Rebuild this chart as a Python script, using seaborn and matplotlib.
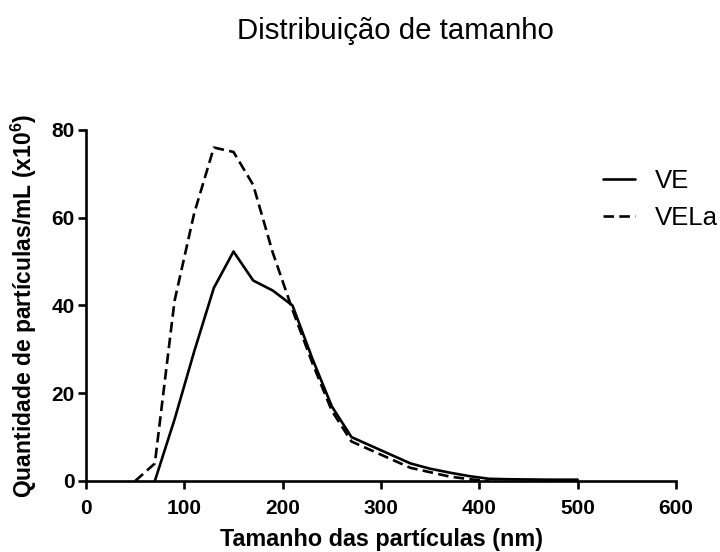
import matplotlib
matplotlib.use("Agg")
import matplotlib.pyplot as plt
import seaborn as sns
import pandas as pd

# Data
size_ve = [70, 90, 110, 130, 150, 170, 190, 210, 230, 250, 270, 290, 310, 330, 350, 370, 390, 410, 430, 450, 470, 490, 500]
count_ve = [0, 14, 29.5, 44, 52.3, 45.7, 43.4, 40, 28, 17, 10, 8, 6, 4, 2.8, 1.9, 1.1, 0.5, 0.4, 0.35, 0.3, 0.3, 0.3]
size_vela = [50, 70, 90, 110, 130, 150, 170, 190, 210, 230, 250, 270, 290, 310, 330, 350, 370, 390, 410]
count_vela = [0, 4, 41, 61, 76, 75, 67.5, 52, 39, 27, 16, 9, 7, 5, 3, 2, 1, 0.4, 0]
series_names = ["VE", "VELa"]
x_ticks = [0, 100, 200, 300, 400, 500, 600]
y_ticks = [0, 20, 40, 60, 80]

sns.set_theme(style="ticks")
plt.rcParams['font.family'] = ['Liberation Sans', 'DejaVu Sans']
plt.rcParams['mathtext.fontset'] = 'custom'
plt.rcParams['mathtext.bf'] = 'Liberation Sans:bold'
plt.rcParams['mathtext.rm'] = 'Liberation Sans'
plt.rcParams['text.color'] = 'black'
plt.rcParams['axes.labelcolor'] = 'black'
plt.rcParams['xtick.color'] = 'black'
plt.rcParams['ytick.color'] = 'black'
plt.rcParams['xtick.labelcolor'] = 'black'
plt.rcParams['ytick.labelcolor'] = 'black'

df = pd.concat([
    pd.DataFrame({"size": size_ve, "count": count_ve, "series": series_names[0]}),
    pd.DataFrame({"size": size_vela, "count": count_vela, "series": series_names[1]}),
], ignore_index=True)

fig = plt.figure(figsize=(7.2, 5.52), dpi=100)
ax = fig.add_axes([86/720, 1-481/552, (676-86)/720, (481-130)/552])

sns.lineplot(data=df, x="size", y="count", style="series", color="black",
             dashes={"VE": "", "VELa": (4, 2)}, linewidth=1.9, ax=ax,
             estimator=None, sort=False, legend="brief")

ax.set_xlim(0, 600)
ax.set_ylim(0, 80)
ax.set_xticks(x_ticks)
ax.set_yticks(y_ticks)
for lbl in ax.get_xticklabels() + ax.get_yticklabels():
    lbl.set_fontweight("bold")
    lbl.set_fontsize(15)
    lbl.set_color("black")
ax.tick_params(direction="out", length=6, width=1.9, color="black", pad=2)
ax.tick_params(axis="x", pad=7)
for s in ["left", "bottom"]:
    ax.spines[s].set_linewidth(1.9)
    ax.spines[s].set_color("black")
sns.despine(ax=ax)

ax.set_xlabel("Tamanho das partículas (nm)", fontsize=16.8, fontweight="bold",
              labelpad=7, color="black")
ax.set_ylabel(r"Quantidade de partículas/mL (x10$^{\mathbf{6}}$)", fontsize=16.5,
              fontweight="bold", labelpad=9, color="black")

fig.text(395/720, 1-31/552, "Distribuição de tamanho", fontsize=21.2,
         ha="center", va="center", color="black")

leg = ax.legend(loc="center left", bbox_to_anchor=(603/720, 1-199.5/552),
                bbox_transform=fig.transFigure, frameon=False, borderpad=0,
                borderaxespad=0, fontsize=18.5, handlelength=1.25,
                handletextpad=0.78, labelspacing=0.53)
for h in leg.get_lines():
    h.set_color("black")
    h.set_linewidth(1.9)
for t in leg.get_texts():
    t.set_color("black")

fig.savefig("out.png", dpi=100)
